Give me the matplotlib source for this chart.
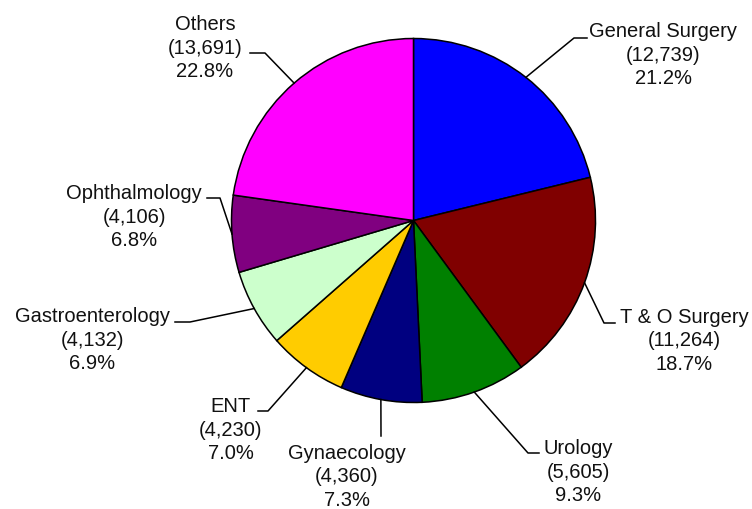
import numpy as np
import matplotlib
matplotlib.use("Agg")
import matplotlib.pyplot as plt

plt.rcParams['font.family'] = ['Liberation Sans', 'DejaVu Sans']

specialties = ['General Surgery', 'T & O Surgery', 'Urology', 'Gynaecology',
               'ENT', 'Gastroenterology', 'Ophthalmology', 'Others']
cases = [12739, 11264, 5605, 4360, 4230, 4132, 4106, 13691]
colors = ['#0000FF', '#800000', '#008000', '#000080',
          '#FFCC00', '#CCFFCC', '#800080', '#FF00FF']

W, H = 752, 509
cx, cy, R = 413.5, 220.5, 182

# label layout in pixel coords: elbow, line end, text centre x, first baseline y
layout = [
    ((574, 38), (587, 38), 663, 37),
    ((604, 323), (615, 323), 684, 323),
    ((528, 453), (539, 453), 578, 454),
    ((381, 436), (381, 436), 347, 459),
    ((268, 411), (258, 411), 231, 412),
    ((190, 322), (175, 322), 92, 322),
    ((220, 198), (207, 198), 134, 199),
    ((265, 53), (250, 53), 205, 30),
]

def px(x, y):
    return x, H - y

fig = plt.figure(figsize=(W / 100, H / 100), dpi=100)
ax = fig.add_axes([0, 0, 1, 1])

wedges, _ = ax.pie(cases, colors=colors, startangle=90, counterclock=False,
                   radius=R, center=px(cx, cy),
                   wedgeprops=dict(edgecolor='black', linewidth=1.1))

total = sum(cases)
for w, name, n, (elbow, end, tx, ty) in zip(wedges, specialties, cases, layout):
    mid = np.deg2rad((w.theta1 + w.theta2) / 2)
    sx, sy = w.center[0] + R * np.cos(mid), w.center[1] + R * np.sin(mid)
    ex, ey = px(*elbow)
    fx, fy = px(*end)
    ax.plot([sx, ex, fx], [sy, ey, fy], color='black', linewidth=1.1)
    lines = [name, f'({n:,})', f'{100 * n / total:.1f}%']
    for i, s in enumerate(lines):
        ax.text(*px(tx, ty + 23.5 * i), s, ha='center', va='baseline',
                fontsize=14.5, color='#111111')

ax.set_xlim(0, W)
ax.set_ylim(0, H)
ax.set_aspect('auto')
ax.axis('off')

fig.savefig('out.png', dpi=100)
